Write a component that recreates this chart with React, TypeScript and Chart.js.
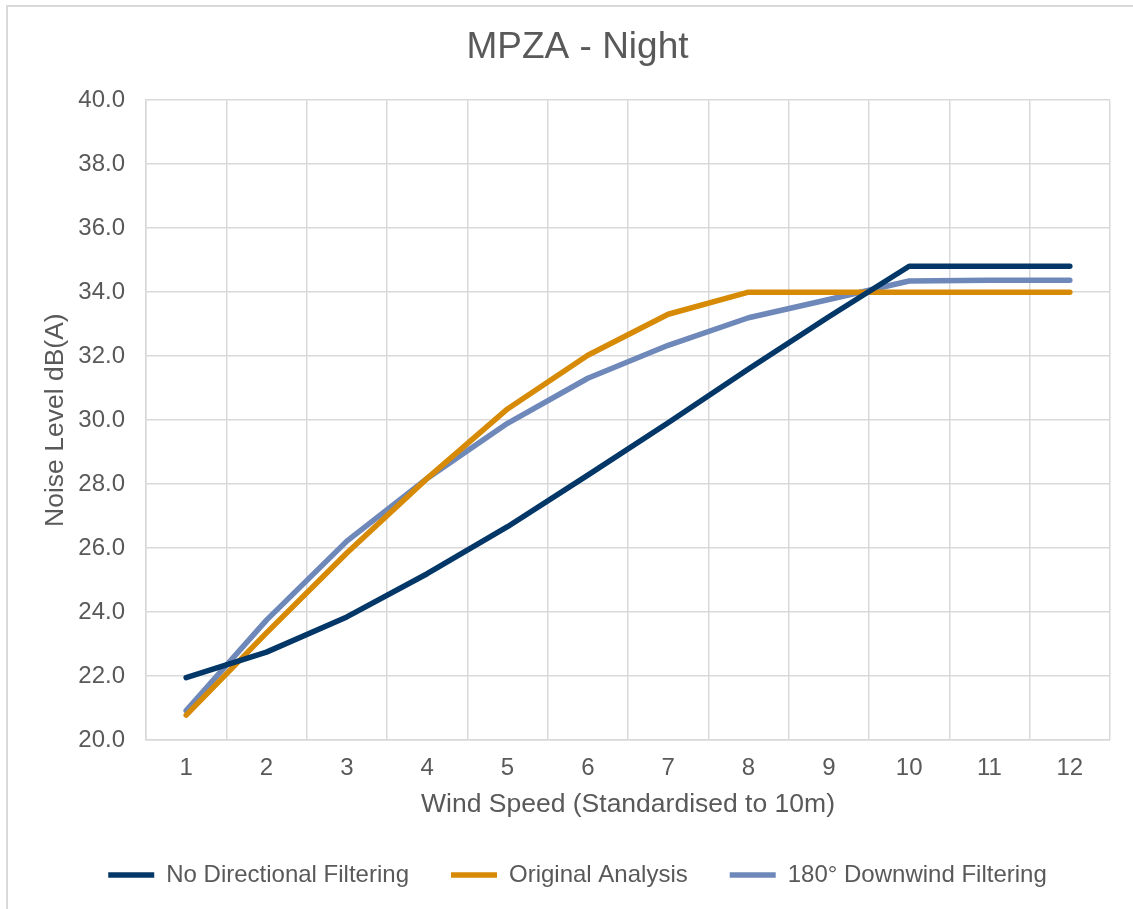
import React, { useEffect, useRef } from "react";
import { Chart, registerables } from "chart.js";

Chart.register(...registerables);

const categories = ["1", "2", "3", "4", "5", "6", "7", "8", "9", "10", "11", "12"];
const noDirectional = [21.95, 22.75, 23.85, 25.2, 26.67, 28.28, 29.92, 31.6, 33.23, 34.81, 34.81, 34.81];
const originalAnalysis = [20.78, 23.35, 25.85, 28.18, 30.35, 32.03, 33.31, 34.0, 34.0, 34.0, 34.0, 34.0];
const downwind180 = [20.92, 23.75, 26.22, 28.18, 29.9, 31.31, 32.34, 33.2, 33.77, 34.35, 34.37, 34.37];

const seriesNames = ["No Directional Filtering", "Original Analysis", "180° Downwind Filtering"];
const seriesColors = ["#033768", "#D68A06", "#6E88BA"];
const yMin = 20;
const yMax = 40;
const yStep = 2;

const FONT = "'Liberation Sans', Arial, sans-serif";
const TEXT = "#595959";
const GRID = "#D9D9D9";

export default function App() {
  const ref = useRef<HTMLCanvasElement | null>(null);

  useEffect(() => {
    if (!ref.current) return;
    const values = [noDirectional, originalAnalysis, downwind180];
    const chart = new Chart(ref.current, {
      type: "line",
      data: {
        labels: categories,
        datasets: values.map((v, i) => ({
          label: seriesNames[i],
          data: v,
          borderColor: seriesColors[i],
          backgroundColor: seriesColors[i],
          borderWidth: 5.5,
          pointRadius: 0,
          pointHoverRadius: 0,
          tension: 0,
          borderCapStyle: "round",
          borderJoinStyle: "round",
          fill: false,
        })),
      },
      options: {
        responsive: false,
        animation: false,
        devicePixelRatio: 1,
        layout: { padding: { left: 45, right: 23, top: 0, bottom: 12 } },
        plugins: {
          tooltip: { enabled: false },
          title: {
            display: true,
            text: "MPZA - Night",
            color: TEXT,
            font: { family: FONT, size: 37, weight: "normal", lineHeight: 1.2 },
            padding: { top: 26, bottom: 29.8 },
          },
          legend: {
            position: "bottom",
            labels: {
              color: TEXT,
              font: { family: FONT, size: 24 },
              usePointStyle: true,
              pointStyle: "line",
              pointStyleWidth: 46,
              padding: 42,
            },
          },
        },
        scales: {
          x: {
            type: "category",
            offset: true,
            grid: { display: true, offset: true, color: GRID, lineWidth: 1.5, drawTicks: false },
            border: { display: true, color: GRID, width: 1.5 },
            ticks: { color: TEXT, font: { family: FONT, size: 24 }, padding: 14, maxRotation: 0 },
            title: {
              display: true,
              text: "Wind Speed (Standardised to 10m)",
              color: TEXT,
              font: { family: FONT, size: 26.5, lineHeight: 1.2 },
              padding: { top: 0, bottom: 0 },
            },
            afterFit: (s: any) => {
              s.height = 80.9;
            },
          },
          y: {
            min: yMin,
            max: yMax,
            grid: { color: GRID, lineWidth: 1.5, drawTicks: false },
            border: { display: true, color: GRID, width: 1.5 },
            ticks: {
              stepSize: yStep,
              color: TEXT,
              font: { family: FONT, size: 24 },
              padding: 21,
              callback: (v: any) => Number(v).toFixed(1),
            },
            title: {
              display: true,
              text: "Noise Level dB(A)",
              color: TEXT,
              font: { family: FONT, size: 26.5, lineHeight: 1.2 },
              padding: { top: -5, bottom: 0 },
            },
            afterFit: (s: any) => {
              s.width = 101;
            },
          },
        },
      },
    });
    return () => chart.destroy();
  }, []);

  return (
    <div style={{ position: "absolute", left: 0, top: 0, width: 1133, height: 909, background: "#fff", overflow: "hidden" }}>
      <div
        style={{
          position: "absolute",
          left: 6,
          top: 5,
          width: 1140,
          height: 920,
          borderLeft: "2px solid #D9D9D9",
          borderTop: "2px solid #D9D9D9",
        }}
      />
      <canvas ref={ref} width={1133} height={909} style={{ position: "absolute", left: 0, top: 0, width: 1133, height: 909 }} />
    </div>
  );
}
